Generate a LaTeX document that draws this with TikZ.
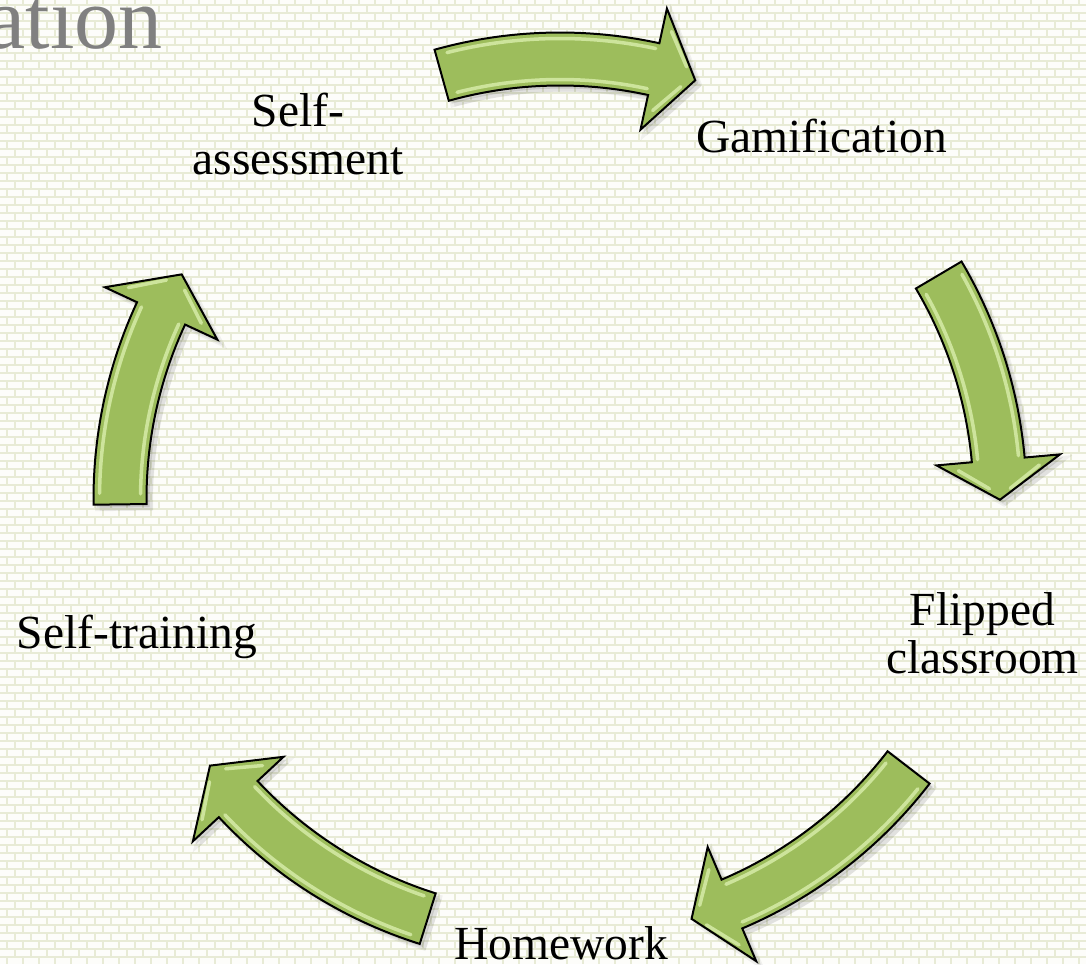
\documentclass[tikz,border=0pt]{standalone}
\usepackage{fontspec}
\setmainfont{Liberation Serif}
\definecolor{mortar}{RGB}{232,235,214}
\definecolor{brickc}{RGB}{253,253,250}
\definecolor{agreen}{RGB}{157,189,92}
\definecolor{alight}{RGB}{214,236,168}
\definecolor{titlegray}{RGB}{128,128,128}
\def\ccR{440}
\def\ccRo{466.5}
\def\ccRi{413.5}
\def\ccRh{502}
\def\ccRhi{378}
\newcommand\cyarrow[3]{%
  \pgfmathsetmacro\ta{#1}\pgfmathsetmacro\ba{#2}\pgfmathsetmacro\pa{#3}%
  \pgfmathsetmacro\tai{#1-1.4}\pgfmathsetmacro\bai{#2+0.3}%
  \pgfmathsetmacro\hA{#2+0.2*(#3-#2)}\pgfmathsetmacro\hB{#2+0.72*(#3-#2)}%
  \pgfmathsetmacro\rAo{\ccR+62*0.8-9}\pgfmathsetmacro\rBo{\ccR+62*0.28-7}%
  \pgfmathsetmacro\rAi{\ccR-62*0.8+9}\pgfmathsetmacro\rBi{\ccR-62*0.28+7}%
  \pgfmathsetmacro\rho{\ccRo-6}\pgfmathsetmacro\rhi{\ccRi+6}%
  \def\arrowpath{(\ta:\ccRo) arc[start angle=\ta, end angle=\ba, radius=\ccRo] -- (\ba:\ccRh) -- (\pa:\ccR) -- (\ba:\ccRhi) -- (\ba:\ccRi) arc[start angle=\ba, end angle=\ta, radius=\ccRi] -- cycle}%
  \fill[black,opacity=0.06,shift={(6,-6)}] \arrowpath;
  \draw[black,opacity=0.05,line width=5,shift={(4,-4)}] \arrowpath;
  \fill[black,opacity=0.10,shift={(3,-3)}] \arrowpath;
  \fill[agreen] \arrowpath;
  \draw[hlw] (\tai:\rho) arc[start angle=\tai, end angle=\bai, radius=\rho];
  \draw[hlw] (\tai:\rhi) arc[start angle=\tai, end angle=\bai, radius=\rhi];
  \draw[hlw] (\hA:\rAo) -- (\hB:\rBo);
  \draw[hlw] (\hA:\rAi) -- (\hB:\rBi);
  \draw[arrowline] \arrowpath;
}
\begin{document}
\begin{tikzpicture}[x=1pt,y=1pt,
  lbl/.style={font=\fontsize{47.5}{48}\selectfont, align=center, inner sep=0pt, anchor=base},
  arrowline/.style={draw=black, line width=2pt, line join=miter},
  hlw/.style={draw=alight, line width=3.5pt, opacity=0.85, line cap=round}]
\useasboundingbox (-560,-465) rectangle (526,499);
\clip (-560,-465) rectangle (526,499);
\fill[mortar] (-560,-465) rectangle (526,499);
\foreach \k in {-1,...,121} {
  \pgfmathsetmacro\yy{499-(8.7+8*\k)}
  \pgfmathsetmacro\ph{0.3+8*mod(\k+2,2)}
  \draw[brickc, line width=6pt, dash pattern=on 14pt off 2pt, dash phase={\ph pt}] (-560,\yy) -- (526,\yy);
}
\node[font=\fontsize{88}{90}\selectfont, text=titlegray, anchor=base east, inner sep=0pt] (title) at (-397,450) {ation};
\cyarrow{105.6}{77.7}{72.1}
\cyarrow{30.6}{5.1}{-0.1}
\cyarrow{-37.6}{-67}{-72.6}
\cyarrow{-107.5}{-137}{-142.7}
\cyarrow{180.7}{155.05}{149.3}
\node[lbl] (sa) at (-262,324) {Self-\\assessment};
\node[lbl] (gam) at (261.5,346) {Gamification};
\node[lbl] (fc) at (422.5,-174) {Flipped\\classroom};
\node[lbl] (hw) at (1,-460) {Homework};
\node[lbl] (st) at (-423,-149) {Self-training};
\end{tikzpicture}
\end{document}
